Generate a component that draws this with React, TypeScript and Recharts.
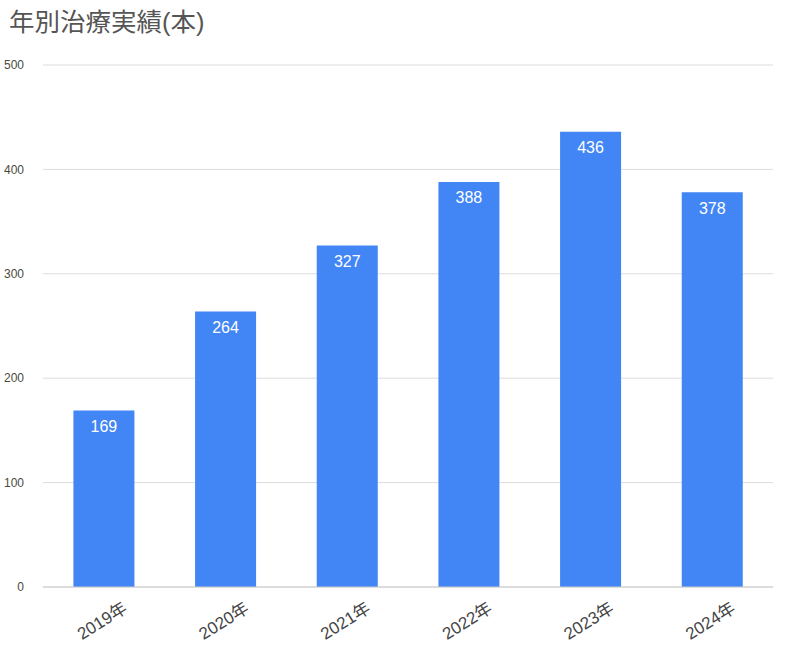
import React from 'react';
import { BarChart, Bar, XAxis, YAxis, CartesianGrid, LabelList } from 'recharts';

const years = ['2019年', '2020年', '2021年', '2022年', '2023年', '2024年'];
const counts = [169, 264, 327, 388, 436, 378];
const yTicks = [0, 100, 200, 300, 400, 500];

const data = years.map((year, i) => ({ year, count: counts[i] }));

const FONT = "Arial, 'Liberation Sans', 'Noto Sans CJK JP', sans-serif";

function YearTick({ x, y, payload }: any) {
  const cx = x - 1;
  const cy = y + 27;
  return (
    <text
      x={cx}
      y={cy}
      textAnchor="middle"
      dominantBaseline="middle"
      transform={`rotate(-32, ${cx}, ${cy})`}
      fontSize={17}
      fill="#444"
      fontFamily={FONT}
    >
      {payload.value}
    </text>
  );
}

export default function App() {
  return (
    <div style={{ position: 'absolute', left: 0, top: 0, width: 788, height: 650, background: '#fff' }}>
      <div
        style={{
          position: 'absolute',
          left: 9,
          top: 1,
          fontSize: 25.5,
          color: '#555',
          fontFamily: FONT,
          whiteSpace: 'nowrap',
        }}
      >
        年別治療実績(本)
      </div>
      <BarChart
        width={788}
        height={650}
        data={data}
        margin={{ top: 65, right: 15, left: 0, bottom: 0 }}
        barCategoryGap="25%"
      >
        <CartesianGrid vertical={false} stroke="#dcdcdc" />
        <XAxis
          dataKey="year"
          height={63}
          tickLine={false}
          axisLine={{ stroke: '#ccc' }}
          tick={<YearTick />}
          interval={0}
        />
        <YAxis
          width={43}
          domain={[0, 500]}
          ticks={yTicks}
          axisLine={false}
          tickLine={false}
          tick={{ fontSize: 12, fill: '#4a4a40', fontFamily: FONT }}
          tickMargin={13}
        />
        <Bar dataKey="count" fill="#4285f4" isAnimationActive={false}>
          <LabelList
            dataKey="count"
            position="insideTop"
            offset={10}
            fill="#fff"
            fontSize={16}
            fontFamily={FONT}
          />
        </Bar>
      </BarChart>
    </div>
  );
}
